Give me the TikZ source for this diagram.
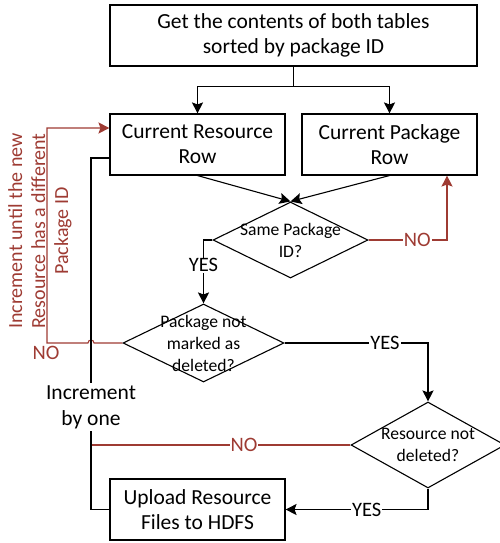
\documentclass[tikz,border=0pt]{standalone}
\usepackage{fontspec}
\setmainfont{Carlito}
\usetikzlibrary{shapes.geometric,arrows.meta}
\definecolor{nored}{HTML}{9E3B33}
\tikzset{
  every picture/.style={line width=1.1pt},
  box/.style={draw, rectangle, align=center, font=\fontsize{21.5}{25}\selectfont, inner sep=0pt},
  decision/.style={draw, diamond, inner sep=0pt},
  dtext/.style={align=center, font=\fontsize{17.6}{22}\selectfont, inner sep=0pt},
  lbl/.style={fill=white, inner sep=1pt, font=\fontsize{20.5}{22}\selectfont},
  arr/.style={-{Stealth[length=11pt,width=11pt,inset=2pt]}},
  redline/.style={draw=nored, text=nored},
}
\begin{document}
\begin{tikzpicture}[x=1pt,y=-1pt]
\useasboundingbox (0,0) rectangle (499,543);

% process boxes
\node[box, minimum width=367pt, minimum height=61pt] (top) at (293.5,35.5)
  {Get the contents of both tables\\sorted by package ID};
\node[box, minimum width=175pt, minimum height=61pt] (res) at (197.5,144.5)
  {Current Resource\\Row};
\node[box, minimum width=175pt, minimum height=61pt] (pkg) at (389.5,144.5)
  {Current Package\\Row};
\node[box, minimum width=175pt, minimum height=61pt] (up) at (197.5,509.5)
  {Upload Resource\\Files to HDFS};

% decisions
\node[decision, minimum width=155pt, minimum height=76pt] (d1) at (290.5,240) {};
\node[dtext] at (d1) {Same Package\\ID?};
\node[decision, minimum width=161pt, minimum height=78pt] (d2) at (203.5,343) {};
\node[dtext] at (d2) {Package not\\marked as\\deleted?};
\node[decision, minimum width=154pt, minimum height=86pt] (d3) at (428,445) {};
\node[dtext] at (d3) {Resource not\\deleted?};

% loop-back anchors on the resource row
\coordinate (reshi) at ([yshift=16.5pt]res.west);
\coordinate (reslo) at ([yshift=-13.5pt]res.west);
\coordinate (pkgin) at ([xshift=57.5pt]pkg.south);

% increment label sitting on the left return line
\node[align=center, fill=white, inner sep=2pt, font=\fontsize{21.5}{26}\selectfont] (inc) at (91,407)
  {Increment\\by one};

% fan-out from the query
\draw[arr] (top.south) -- ++(0,20) -| (res.north);
\draw[arr] (top.south) -- ++(0,20) -| (pkg.north);

% both rows feed the comparison
\draw[arr] (res.south) -- (d1.north);
\draw[arr] (pkg.south) -- (d1.north);

% comparison outcomes
\draw[redline, -{Stealth[length=11pt,width=11pt,inset=2pt]}] (d1.east) -| node[lbl, pos=0.31, text=nored] {NO} (pkgin);
\draw[arr] (d1.west) -| node[lbl, pos=0.70] {YES} (d2.north);

% package deleted check
\draw[arr] (d2.east) -| node[lbl, pos=0.35] {YES} (d3.north);
\draw[redline, -{Stealth[length=11pt,width=11pt,inset=2pt]}] (d2.west) -- (94,343) arc (0:-180:3) -- (47,343) |- (reshi);
\node[text=nored, font=\fontsize{20.5}{22}\selectfont, inner sep=0pt] at (46,353) {NO};
\node[text=nored, rotate=90, align=center, font=\fontsize{20}{23}\selectfont, inner sep=0pt] at (40,231)
  {Increment until the new\\Resource has a different\\Package ID};

% resource deleted check
\draw[arr] (d3.south) |- node[lbl, pos=0.715] {YES} (up.east);
\draw[redline] (d3.west) -- node[lbl, pos=0.41, text=nored] {NO} (inc.south |- d3.west);

% return path to the next resource row
\draw (up.west) -| (inc.south);
\draw (inc.north) |- (reslo);
\draw[draw=none, -{Stealth[length=11pt,width=11pt,inset=2pt]}, nored] ([xshift=-12pt]reslo) -- (reslo);
\end{tikzpicture}
\end{document}
